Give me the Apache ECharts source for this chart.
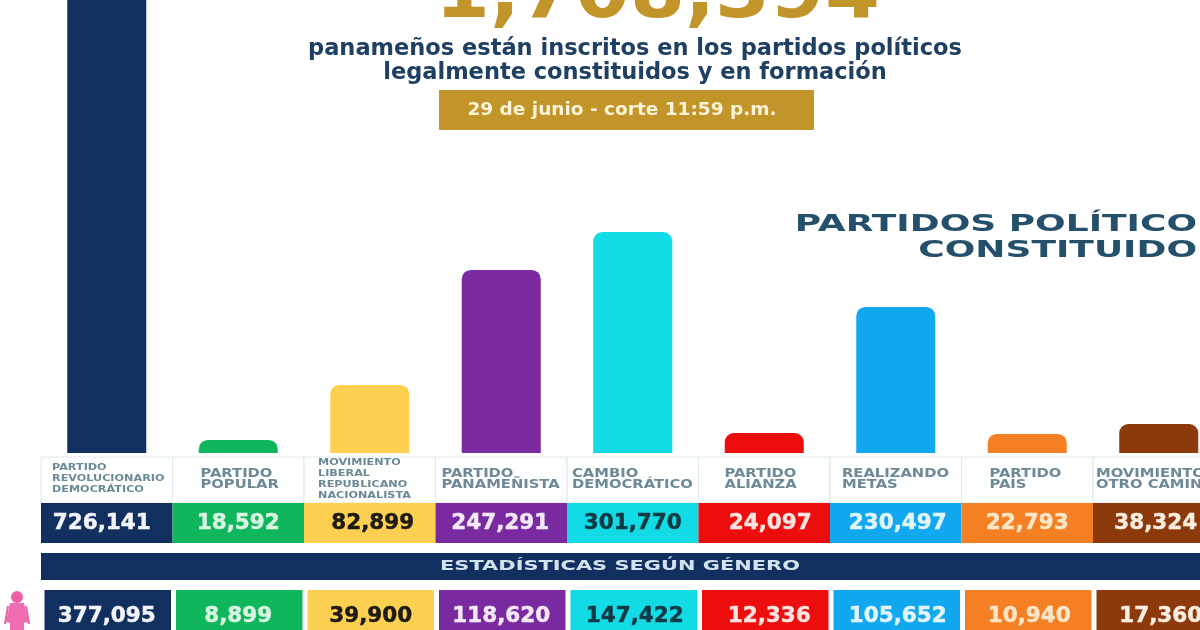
<!DOCTYPE html>
<html><head><meta charset="utf-8">
<style>html,body{margin:0;padding:0;background:#fff;overflow:hidden}#c{width:1200px;height:630px;filter:blur(0.6px)}</style>
<script src="https://cdn.jsdelivr.net/npm/echarts@6/dist/echarts.min.js"></script>
</head><body><div id="c"></div>
<script>
// ---- data ----
const parties = ['PARTIDO\nREVOLUCIONARIO\nDEMOCRÁTICO','PARTIDO\nPOPULAR','MOVIMIENTO\nLIBERAL\nREPUBLICANO\nNACIONALISTA','PARTIDO\nPANAMEÑISTA','CAMBIO\nDEMOCRÁTICO','PARTIDO\nALIANZA','REALIZANDO\nMETAS','PARTIDO\nPAÍS','MOVIMIENTO\nOTRO CAMINO'];
const totals = [726141,18592,82899,247291,301770,24097,230497,22793,38324];
const women = [377095,8899,39900,118620,147422,12336,105652,10940,17360];
// heights of the bars as drawn in the picture
const barHeights = [726141,17800,92900,250000,301770,27300,199500,26000,39600];
const grandTotal = '1,708,394';
const subtitleLines = ['panameños están inscritos en los partidos políticos','legalmente constituidos y en formación'];
const cutoff = '29 de junio - corte 11:59 p.m.';
const sectionTitle = ['PARTIDOS POLÍTICO','CONSTITUIDO'];
const genderTitle = 'ESTADÍSTICAS SEGÚN GÉNERO';
// ---- styles ----
const colors = ['#12305f','#10b65c','#fdd052','#7a2aa0','#12dbe6','#ee0d0d','#12a8f0','#f58024','#8c3a0b'];
const numColors = ['#f2f4f8','#d8f5e2','#1d1a14','#f4e8f8','#0d3a44','#fbe3e0','#e2f5fd','#fde6c8','#fbeee0'];
const nameIndent = [11,28,14,6,5,26,12,28,3];
const nameSize = [9.5,12.5,9.5,12.5,12.5,12.5,12.5,12.5,12.5];
const totalShift = [-5,0,3,-1,0,6,2,0,-3];
const womenShift = [0,0,1,0,2,5,2,2,2];
const FONT = '"DejaVu Sans"';
const GL = 41, GW = 1183.5;

function numberCell(values, gap, textDy, shift, cellDx){
  return function(params, api){
    const i = api.value(0), cs = params.coordSys;
    const w = api.size([1,0])[0], cx = api.coord([i,0])[0];
    return {type:'group',children:[
      {type:'rect',shape:{x:cx-w/2+gap+cellDx,y:cs.y,width:w-gap*2,height:cs.height},style:{fill:colors[i]}},
      {type:'text',style:{x:cx+shift[i],y:cs.y+textDy,text:values[i].toLocaleString('en-US'),fill:numColors[i],
        stroke:numColors[i],lineWidth:0.5,font:'bold 21.5px '+FONT,align:'center',verticalAlign:'middle'}}
    ]};
  };
}
function nameCell(params, api){
  const i = api.value(0), cs = params.coordSys;
  const w = api.size([1,0])[0], cx = api.coord([i,0])[0];
  return {type:'group',children:[
    {type:'rect',shape:{x:cx-w/2,y:cs.y,width:w,height:cs.height},style:{fill:'#fdfefe',stroke:'#e2e6e8',lineWidth:1}},
    {type:'text',x:cx-w/2+nameIndent[i],y:cs.y+cs.height/2-1,scaleX:1.18,style:{text:parties[i],fill:'#6d8896',
      font:'bold '+nameSize[i]+'px '+FONT,align:'left',verticalAlign:'middle',lineHeight:11}}
  ]};
}
const idx = parties.map((_,i)=>[i,1]);
const xa = g => ({type:'category',gridIndex:g,data:parties.map((_,i)=>i),show:false});
const ya = (g,max) => ({type:'value',gridIndex:g,min:0,max:max||1,show:false});
const gridAt = (top,height) => ({left:GL,width:GW,top:top,height:height,outerBoundsMode:'none',containLabel:false});

const gold = '#c2952a', navy = '#1f3f63';
const chart = echarts.init(document.getElementById('c'),null,{renderer:'canvas'});
chart.setOption({
  animation:false,
  backgroundColor:'#fff',
  grid:[gridAt(-100,553),gridAt(457,46),gridAt(503,40),gridAt(590,50)],
  xAxis:[xa(0),xa(1),xa(2),xa(3)],
  yAxis:[ya(0,755100),ya(1),ya(2),ya(3)],
  series:[
    {type:'bar',xAxisIndex:0,yAxisIndex:0,barWidth:79,clip:true,
      data:barHeights.map((v,i)=>({value:v,itemStyle:{color:colors[i],borderRadius:[9,9,0,0]}}))},
    {type:'custom',xAxisIndex:1,yAxisIndex:1,data:idx,renderItem:nameCell},
    {type:'custom',xAxisIndex:2,yAxisIndex:2,data:idx,renderItem:numberCell(totals,0,20,totalShift,0)},
    {type:'custom',xAxisIndex:3,yAxisIndex:3,data:idx,renderItem:numberCell(women,2.5,26,womenShift,1)}
  ],
  graphic:[
    {type:'text',x:657.5,y:36,style:{text:grandTotal,fill:gold,font:'bold 79px '+FONT,align:'center',verticalAlign:'bottom'}},
    {type:'text',x:635,y:49,style:{text:subtitleLines[0],fill:navy,font:'bold 22.5px '+FONT,align:'center',verticalAlign:'middle'}},
    {type:'text',x:635,y:73,style:{text:subtitleLines[1],fill:navy,font:'bold 22.5px '+FONT,align:'center',verticalAlign:'middle'}},
    {type:'rect',shape:{x:439,y:90,width:375,height:40},style:{fill:gold}},
    {type:'text',x:622,y:110,style:{text:cutoff,fill:'#fdf3d8',font:'bold 18.5px '+FONT,align:'center',verticalAlign:'middle'}},
    {type:'text',x:1197,y:225,scaleX:1.6,style:{text:sectionTitle[0],fill:'#24506c',font:'bold 22.5px '+FONT,align:'right',verticalAlign:'middle'}},
    {type:'text',x:1197,y:251,scaleX:1.6,style:{text:sectionTitle[1],fill:'#24506c',font:'bold 22.5px '+FONT,align:'right',verticalAlign:'middle'}},
    {type:'rect',shape:{x:41,y:553,width:1184,height:27},style:{fill:'#12305f'}},
    {type:'text',x:620,y:566,scaleX:1.55,style:{text:genderTitle,fill:'#d3e2ef',font:'bold 13.5px '+FONT,align:'center',verticalAlign:'middle'}},
    {type:'group',children:[
      {type:'circle',shape:{cx:17,cy:597,r:6},style:{fill:'#ee5fa8'}},
      {type:'polygon',shape:{points:[[10,603],[24,603],[28,622],[24,623],[24,630],[10,630],[10,623],[6,622]]},style:{fill:'#f06cb0'}},
      {type:'line',shape:{x1:8,y1:606,x2:5,y2:624},style:{stroke:'#ee5fa8',lineWidth:2}},
      {type:'line',shape:{x1:26,y1:606,x2:29,y2:624},style:{stroke:'#ee5fa8',lineWidth:2}}
    ]}
  ]
});
</script></body></html>
